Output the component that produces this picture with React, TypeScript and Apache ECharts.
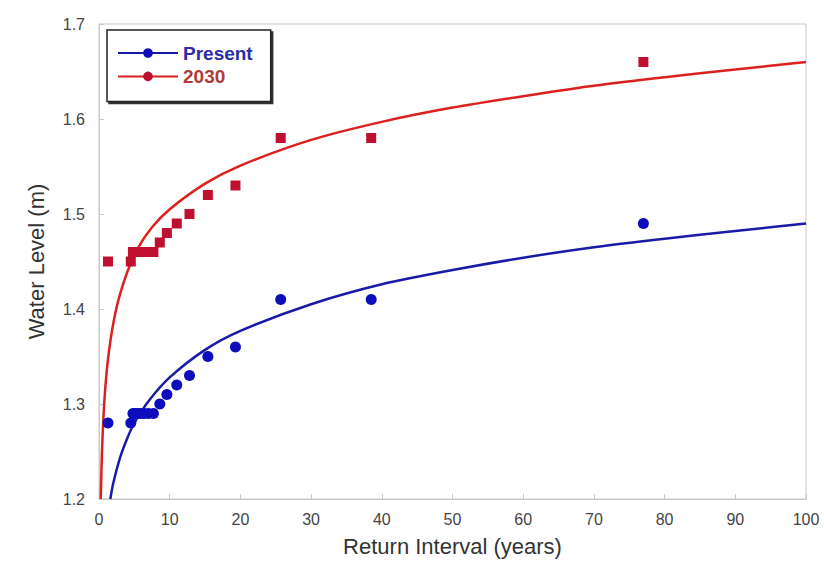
import React, { useEffect, useRef } from "react";
import * as echarts from "echarts";

// Observed data (return interval in years, water level in m)
const returnIntervals = [1.27, 4.5, 4.8, 5.1, 5.5, 5.9, 6.4, 7.0, 7.7, 8.6, 9.6, 11, 12.8, 15.4, 19.3, 25.7, 38.5, 77];
const presentLevels = [1.28, 1.28, 1.29, 1.29, 1.29, 1.29, 1.29, 1.29, 1.29, 1.30, 1.31, 1.32, 1.33, 1.35, 1.36, 1.41, 1.41, 1.49];
const future2030Levels = [1.45, 1.45, 1.46, 1.46, 1.46, 1.46, 1.46, 1.46, 1.46, 1.47, 1.48, 1.49, 1.50, 1.52, 1.53, 1.58, 1.58, 1.66];

// Fitted curves
const presentFitX = [1.6, 2, 3, 4, 5, 7, 10, 15, 20, 30, 40, 50, 60, 70, 80, 90, 100];
const presentFitY = [1.2, 1.216, 1.244, 1.264, 1.28, 1.303, 1.328, 1.357, 1.377, 1.405, 1.426, 1.441, 1.454, 1.465, 1.474, 1.482, 1.49];
const futureFitX = [0.25, 0.35, 0.5, 0.7, 1, 1.4, 2, 2.8, 4, 5.5, 7.5, 10, 15, 20, 30, 40, 50, 60, 70, 80, 90, 100];
const futureFitY = [1.2, 1.232, 1.265, 1.296, 1.327, 1.355, 1.384, 1.411, 1.439, 1.464, 1.486, 1.505, 1.532, 1.551, 1.578, 1.597, 1.612, 1.624, 1.635, 1.644, 1.652, 1.66];

const xTicks = [0, 100, 10];
const yTicks = [1.2, 1.7, 0.1];

const zip = (xs: number[], ys: number[]) => xs.map((x, i) => [x, ys[i]]);

export default function App() {
  const ref = useRef<HTMLDivElement>(null);
  useEffect(() => {
    if (!ref.current) return;
    const chart = echarts.init(ref.current, undefined, { renderer: "svg" });
    const font = "Liberation Sans, Arial, sans-serif";
    const blue = "#1a1aa8";
    const blueMk = "#0d0dbe";
    const red = "#dc2020";
    const redMk = "#c01030";
    chart.setOption({
      animation: false,
      backgroundColor: "#ffffff",
      grid: { left: 99, right: 18, top: 24, bottom: 62, show: true, borderColor: "#c8c8c8", borderWidth: 1, backgroundColor: "transparent" },
      legend: {
        left: 107,
        top: 30,
        orient: "vertical",
        itemWidth: 60,
        itemHeight: 12,
        itemGap: 3.4,
        padding: [13, 18, 15, 10],
        borderColor: "#222",
        borderWidth: 1.5,
        backgroundColor: "#fff",
        shadowColor: "#333",
        shadowBlur: 0,
        shadowOffsetX: 2,
        shadowOffsetY: 2,
        textStyle: { fontFamily: font, fontSize: 19, fontWeight: "bold", lineHeight: 20 },
        data: [
          { name: "Present", textStyle: { color: "#2c2ca6" } },
          { name: "2030", textStyle: { color: "#b03a3a" } },
        ],
      },
      xAxis: {
        type: "value",
        min: xTicks[0],
        max: xTicks[1],
        interval: xTicks[2],
        name: "Return Interval (years)",
        nameLocation: "middle",
        nameGap: 36,
        nameTextStyle: { fontFamily: font, fontSize: 22, color: "#333" },
        axisLine: { show: true, lineStyle: { color: "#c8c8c8" } },
        axisTick: { show: true, inside: true, length: 5, lineStyle: { color: "#c8c8c8" } },
        axisLabel: { fontFamily: font, fontSize: 16, color: "#444", margin: 12 },
        splitLine: { show: false },
      },
      yAxis: {
        type: "value",
        min: yTicks[0],
        max: yTicks[1],
        interval: yTicks[2],
        name: "Water Level (m)",
        nameLocation: "middle",
        nameGap: 52,
        nameTextStyle: { fontFamily: font, fontSize: 22, color: "#333" },
        axisLine: { show: true, lineStyle: { color: "#c8c8c8" } },
        axisTick: { show: true, inside: true, length: 5, lineStyle: { color: "#c8c8c8" } },
        axisLabel: { fontFamily: font, fontSize: 16, color: "#444", margin: 14, formatter: (v: number) => v.toFixed(1) },
        splitLine: { show: false },
      },
      series: [
        {
          name: "Present",
          type: "line",
          data: zip(presentFitX, presentFitY),
          smooth: 0.25,
          symbol: "circle",
          symbolSize: 10,
          showSymbol: false,
          itemStyle: { color: blueMk },
          lineStyle: { color: blue, width: 2.5 },
          z: 2,
        },
        {
          name: "2030",
          type: "line",
          data: zip(futureFitX, futureFitY),
          smooth: 0.25,
          symbol: "circle",
          symbolSize: 10,
          showSymbol: false,
          itemStyle: { color: redMk },
          lineStyle: { color: red, width: 2.5 },
          z: 2,
        },
        {
          name: "Present",
          type: "scatter",
          data: zip(returnIntervals, presentLevels),
          symbol: "circle",
          symbolSize: 11,
          itemStyle: { color: blueMk, opacity: 1 },
          z: 3,
        },
        {
          name: "2030",
          type: "scatter",
          data: zip(returnIntervals, future2030Levels),
          symbol: "rect",
          symbolSize: 10,
          itemStyle: { color: redMk, opacity: 1 },
          z: 3,
        },
      ],
    });
    return () => chart.dispose();
  }, []);
  return <div ref={ref} style={{ width: 824, height: 562, position: "absolute", left: 0, top: 0 }} />;
}
